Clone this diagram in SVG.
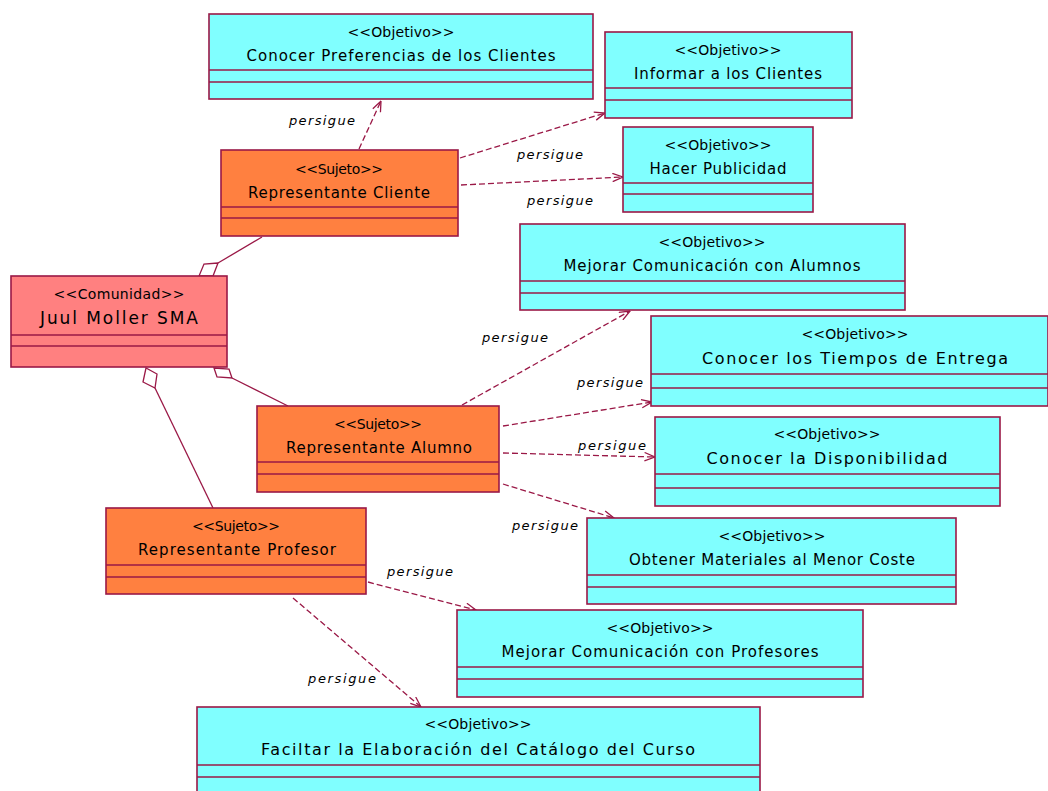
<svg xmlns="http://www.w3.org/2000/svg" width="1048" height="791" viewBox="0 0 1048 791">
  <style>
    .box { stroke: #9a1846; stroke-width: 1.6; }
    .goal { fill: #80ffff; }
    .subj { fill: #ff8040; }
    .comm { fill: #ff8080; }
    .div { stroke: #9a1846; stroke-width: 1.6; }
    .st { font-family: "DejaVu Sans", "Liberation Sans", sans-serif; font-size: 14px; fill: #000; text-anchor: middle; }
    .nm { font-family: "DejaVu Sans", "Liberation Sans", sans-serif; font-size: 15px; fill: #000; text-anchor: middle; }
    .wide { font-size: 16px; }
    .lbl { font-family: "DejaVu Sans", "Liberation Sans", sans-serif; font-size: 13px; font-style: italic; fill: #000; text-anchor: middle; }
    .dep { fill: none; stroke: #9a1846; stroke-width: 1.3; stroke-dasharray: 6 3; marker-end: url(#open); }
    .agg { fill: none; stroke: #9a1846; stroke-width: 1.3; }
    .dia { fill: #ffffff; stroke: #9a1846; stroke-width: 1.3; }
  </style>
  <defs>
    <marker id="open" viewBox="0 0 12 10" refX="11.5" refY="5" markerWidth="12" markerHeight="10" markerUnits="userSpaceOnUse" orient="auto">
      <path d="M1,0.8 L11.5,5 L1,9.2" fill="none" stroke="#9a1846" stroke-width="1.3"/>
    </marker>
  </defs>
  <rect width="1048" height="791" fill="#ffffff"/>

  <!-- connectors -->
  <g id="connectors">
    <!-- aggregations to the community -->
    <polyline class="agg" points="262,237 218,263"/>
    <polygon class="dia" points="218,263 204,264 199,276 213,276"/>
    <polyline class="agg" points="232,378 288,406"/>
    <polygon class="dia" points="214,368 217,377 232,378 229,369"/>
    <polyline class="agg" points="155,388 213,508"/>
    <polygon class="dia" points="146,368 143,382 155,388 157,374"/>

    <!-- persigue dependencies -->
    <line class="dep" x1="359" y1="149" x2="381" y2="101"/>
    <line class="dep" x1="460" y1="158" x2="605" y2="113"/>
    <line class="dep" x1="461" y1="185" x2="623" y2="177"/>
    <line class="dep" x1="462" y1="405" x2="630" y2="311"/>
    <line class="dep" x1="503" y1="426" x2="652" y2="402"/>
    <line class="dep" x1="503" y1="453" x2="655" y2="457"/>
    <line class="dep" x1="503" y1="484" x2="614" y2="518"/>
    <line class="dep" x1="368" y1="582" x2="476" y2="610"/>
    <line class="dep" x1="293" y1="598" x2="421" y2="707"/>

    <text class="lbl" x="322" y="125" textLength="66" lengthAdjust="spacing">persigue</text>
    <text class="lbl" x="550" y="159" textLength="66" lengthAdjust="spacing">persigue</text>
    <text class="lbl" x="560" y="205" textLength="66" lengthAdjust="spacing">persigue</text>
    <text class="lbl" x="515" y="342" textLength="66" lengthAdjust="spacing">persigue</text>
    <text class="lbl" x="610" y="387" textLength="66" lengthAdjust="spacing">persigue</text>
    <text class="lbl" x="612" y="450" textLength="68" lengthAdjust="spacing">persigue</text>
    <text class="lbl" x="545" y="530" textLength="66" lengthAdjust="spacing">persigue</text>
    <text class="lbl" x="420" y="576" textLength="66" lengthAdjust="spacing">persigue</text>
    <text class="lbl" x="342" y="683" textLength="68" lengthAdjust="spacing">persigue</text>
  </g>

  <!-- goal: Conocer Preferencias de los Clientes -->
  <g id="goal-preferencias">
    <rect class="box goal" x="209" y="14" width="384" height="85"/>
    <line class="div" x1="209" y1="70" x2="593" y2="70"/>
    <line class="div" x1="209" y1="82" x2="593" y2="82"/>
    <text class="st" x="401" y="37" textLength="107" lengthAdjust="spacing">&lt;&lt;Objetivo&gt;&gt;</text>
    <text class="nm" x="401" y="61" textLength="309" lengthAdjust="spacing">Conocer Preferencias de los Clientes</text>
  </g>

  <!-- goal: Informar a los Clientes -->
  <g id="goal-informar">
    <rect class="box goal" x="605" y="32" width="247" height="86"/>
    <line class="div" x1="605" y1="88" x2="852" y2="88"/>
    <line class="div" x1="605" y1="100" x2="852" y2="100"/>
    <text class="st" x="728" y="55" textLength="107" lengthAdjust="spacing">&lt;&lt;Objetivo&gt;&gt;</text>
    <text class="nm" x="728" y="79" textLength="188" lengthAdjust="spacing">Informar a los Clientes</text>
  </g>

  <!-- goal: Hacer Publicidad -->
  <g id="goal-publicidad">
    <rect class="box goal" x="623" y="127" width="190" height="85"/>
    <line class="div" x1="623" y1="183" x2="813" y2="183"/>
    <line class="div" x1="623" y1="194" x2="813" y2="194"/>
    <text class="st" x="718" y="150" textLength="107" lengthAdjust="spacing">&lt;&lt;Objetivo&gt;&gt;</text>
    <text class="nm" x="718" y="174" textLength="137" lengthAdjust="spacing">Hacer Publicidad</text>
  </g>

  <!-- subject: Representante Cliente -->
  <g id="subject-cliente">
    <rect class="box subj" x="221" y="150" width="237" height="86"/>
    <line class="div" x1="221" y1="207" x2="458" y2="207"/>
    <line class="div" x1="221" y1="218" x2="458" y2="218"/>
    <text class="st" x="339" y="174" textLength="88" lengthAdjust="spacing">&lt;&lt;Sujeto&gt;&gt;</text>
    <text class="nm" x="339" y="198" textLength="182" lengthAdjust="spacing">Representante Cliente</text>
  </g>

  <!-- community: Juul Moller SMA -->
  <g id="community-juul">
    <rect class="box comm" x="11" y="276" width="216" height="91"/>
    <line class="div" x1="11" y1="335" x2="227" y2="335"/>
    <line class="div" x1="11" y1="346" x2="227" y2="346"/>
    <text class="st" x="119" y="299" textLength="131" lengthAdjust="spacing">&lt;&lt;Comunidad&gt;&gt;</text>
    <text class="nm" x="119" y="324" style="font-size:17px" textLength="158" lengthAdjust="spacing">Juul Moller SMA</text>
  </g>

  <!-- goal: Mejorar Comunicación con Alumnos -->
  <g id="goal-alumnos">
    <rect class="box goal" x="520" y="224" width="385" height="86"/>
    <line class="div" x1="520" y1="281" x2="905" y2="281"/>
    <line class="div" x1="520" y1="293" x2="905" y2="293"/>
    <text class="st" x="712" y="247" textLength="107" lengthAdjust="spacing">&lt;&lt;Objetivo&gt;&gt;</text>
    <text class="nm" x="712" y="271" textLength="297" lengthAdjust="spacing">Mejorar Comunicación con Alumnos</text>
  </g>

  <!-- goal: Conocer los Tiempos de Entrega -->
  <g id="goal-tiempos">
    <rect class="box goal" x="651" y="316" width="397" height="90"/>
    <line class="div" x1="651" y1="374" x2="1048" y2="374"/>
    <line class="div" x1="651" y1="388" x2="1048" y2="388"/>
    <text class="st" x="855" y="339" textLength="107" lengthAdjust="spacing">&lt;&lt;Objetivo&gt;&gt;</text>
    <text class="nm wide" x="855" y="364" textLength="306" lengthAdjust="spacing">Conocer los Tiempos de Entrega</text>
  </g>

  <!-- subject: Representante Alumno -->
  <g id="subject-alumno">
    <rect class="box subj" x="257" y="406" width="242" height="86"/>
    <line class="div" x1="257" y1="462" x2="499" y2="462"/>
    <line class="div" x1="257" y1="474" x2="499" y2="474"/>
    <text class="st" x="378" y="429" textLength="88" lengthAdjust="spacing">&lt;&lt;Sujeto&gt;&gt;</text>
    <text class="nm" x="379" y="453" textLength="186" lengthAdjust="spacing">Representante Alumno</text>
  </g>

  <!-- goal: Conocer la Disponibilidad -->
  <g id="goal-disponibilidad">
    <rect class="box goal" x="655" y="417" width="345" height="89"/>
    <line class="div" x1="655" y1="474" x2="1000" y2="474"/>
    <line class="div" x1="655" y1="488" x2="1000" y2="488"/>
    <text class="st" x="827" y="439" textLength="107" lengthAdjust="spacing">&lt;&lt;Objetivo&gt;&gt;</text>
    <text class="nm wide" x="827" y="464" textLength="241" lengthAdjust="spacing">Conocer la Disponibilidad</text>
  </g>

  <!-- subject: Representante Profesor -->
  <g id="subject-profesor">
    <rect class="box subj" x="106" y="508" width="260" height="86"/>
    <line class="div" x1="106" y1="565" x2="366" y2="565"/>
    <line class="div" x1="106" y1="577" x2="366" y2="577"/>
    <text class="st" x="236" y="531" textLength="88" lengthAdjust="spacing">&lt;&lt;Sujeto&gt;&gt;</text>
    <text class="nm" x="237" y="555" textLength="198" lengthAdjust="spacing">Representante Profesor</text>
  </g>

  <!-- goal: Obtener Materiales al Menor Coste -->
  <g id="goal-materiales">
    <rect class="box goal" x="587" y="518" width="369" height="86"/>
    <line class="div" x1="587" y1="575" x2="956" y2="575"/>
    <line class="div" x1="587" y1="587" x2="956" y2="587"/>
    <text class="st" x="772" y="541" textLength="107" lengthAdjust="spacing">&lt;&lt;Objetivo&gt;&gt;</text>
    <text class="nm" x="772" y="565" textLength="286" lengthAdjust="spacing">Obtener Materiales al Menor Coste</text>
  </g>

  <!-- goal: Mejorar Comunicación con Profesores -->
  <g id="goal-profesores">
    <rect class="box goal" x="457" y="610" width="406" height="87"/>
    <line class="div" x1="457" y1="667" x2="863" y2="667"/>
    <line class="div" x1="457" y1="679" x2="863" y2="679"/>
    <text class="st" x="660" y="633" textLength="107" lengthAdjust="spacing">&lt;&lt;Objetivo&gt;&gt;</text>
    <text class="nm" x="660" y="657" textLength="317" lengthAdjust="spacing">Mejorar Comunicación con Profesores</text>
  </g>

  <!-- goal: Faciltar la Elaboración del Catálogo del Curso -->
  <g id="goal-catalogo">
    <rect class="box goal" x="197" y="707" width="563" height="90"/>
    <line class="div" x1="197" y1="765" x2="760" y2="765"/>
    <line class="div" x1="197" y1="777" x2="760" y2="777"/>
    <text class="st" x="478" y="729" textLength="107" lengthAdjust="spacing">&lt;&lt;Objetivo&gt;&gt;</text>
    <text class="nm wide" x="478" y="755" textLength="434" lengthAdjust="spacing">Faciltar la Elaboración del Catálogo del Curso</text>
  </g>
</svg>
